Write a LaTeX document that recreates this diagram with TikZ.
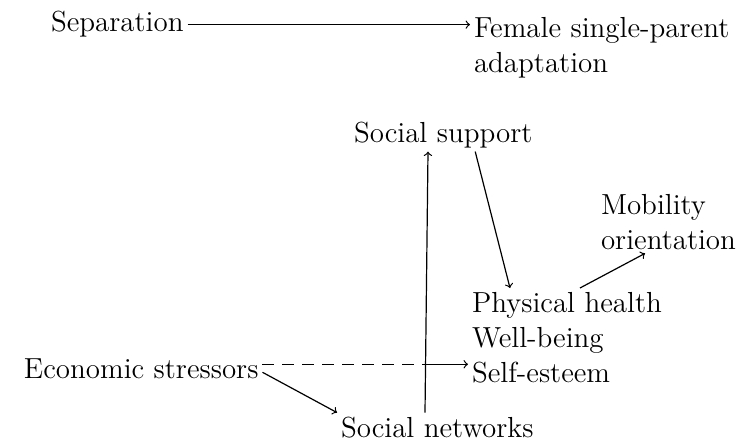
\documentclass[tikz,border=0pt]{standalone}
\usepackage{tikz}
\usetikzlibrary{calc}

\begin{document}
\begin{tikzpicture}[x=0.5pt,y=-0.5pt,>=to,line width=0.6pt,
	lbl/.style={inner sep=0pt,outer sep=2pt,font=\fontsize{14.5}{17.5}\selectfont},
	blk/.style={lbl,align=left,anchor=north west}]
	\useasboundingbox (0,0) rectangle (739,444);

	\node[lbl,anchor=base west] (sep) at (47,32) {Separation};
	\node[blk] (fem) at (470,13) {Female single-parent\\adaptation};
		\draw[->] (sep.east) -- (sep.east -| fem.west);

	\node[lbl,anchor=base west] (support) at (350,142) {Social support};
	\node[blk] (mob) at (597,190) {Mobility\\orientation};
	\node[blk] (outcome) at (468,288) {Physical health\\Well-being\\Self-esteem};
	\node[lbl,anchor=base west] (stress) at (20,378) {Economic stressors};
	\node[lbl,anchor=base west] (net) at (337,437) {Social networks};

	% networks up to support, and the paths into the outcomes
	\coordinate (up0) at ([xshift=44pt]net.north west);
	\coordinate (up1) at ([xshift=39pt]support.south west);
		\draw[->] (up0) -- (up1);
	\draw[->] ([xshift=16pt]support.south) -- ([xshift=21pt]outcome.north west);
	\draw[->] ([xshift=56pt]outcome.north west) -- ([xshift=24pt]mob.south west);

	\coordinate (cross) at ($(stress.east -| up0)+(0,-4)$);
		\draw[dash pattern=on 6pt off 4pt] ([yshift=2pt]stress.east) -- (cross);
		\draw[->] (cross) -- (cross -| outcome.west);
	\draw[->] ([yshift=5pt]stress.south east) -- (net.north west);
\end{tikzpicture}
\end{document}
